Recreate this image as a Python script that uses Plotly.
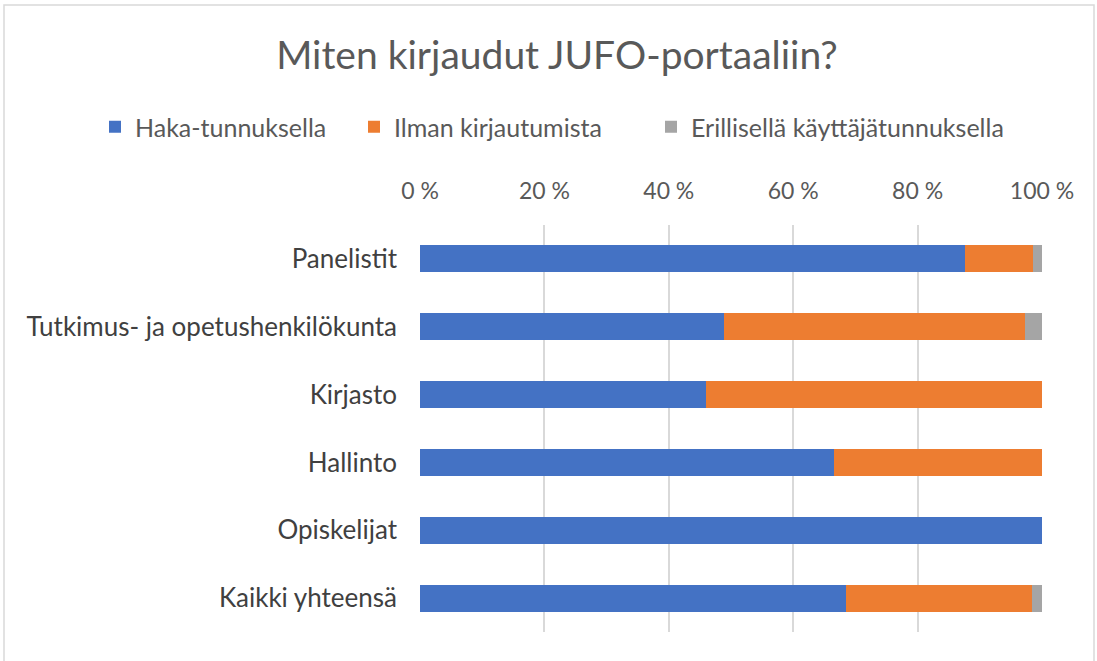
import plotly.graph_objects as go

categories = ["Panelistit", "Tutkimus- ja opetushenkilökunta", "Kirjasto", "Hallinto", "Opiskelijat", "Kaikki yhteensä"]
haka = [87.7, 48.9, 45.9, 66.6, 100.0, 68.5]
ilman = [10.8, 48.4, 54.1, 33.4, 0.0, 29.9]
erillinen = [1.5, 2.7, 0.0, 0.0, 0.0, 1.6]
series_names = ["Haka-tunnuksella", "Ilman kirjautumista", "Erillisellä käyttäjätunnuksella"]
colors = ["#4472C4", "#ED7D31", "#A5A5A5"]
tick_vals = [0, 20, 40, 60, 80, 100]
tick_text = ["0 %", "20 %", "40 %", "60 %", "80 %", "100 %"]

W, H = 1097, 661
L, R, T, B = 420, 55, 225, 29
PW, PH = W - L - R, H - T - B

legend_ids = ["legend", "legend2", "legend3"]
legend_text_x = [135, 394, 691]

fig = go.Figure()
for name, vals, col, lg in zip(series_names, [haka, ilman, erillinen], colors, legend_ids):
    fig.add_trace(go.Bar(
        y=categories, x=vals, name=name, orientation="h",
        marker=dict(color=col, line=dict(width=0)), width=0.4,
        hoverinfo="x+name", legend=lg, showlegend=True,
    ))

legend_common = dict(orientation="h", xref="container", yref="container",
                     y=1 - 127 / H, xanchor="left", yanchor="middle",
                     font=dict(size=25, color="#595959", family="Lato"),
                     bgcolor="rgba(0,0,0,0)", visible=True)
legends = {}
for lg, tx in zip(legend_ids, legend_text_x):
    legends[lg] = dict(legend_common, x=(tx - 40) / W)

fig.update_layout(
    barmode="stack",
    showlegend=True,
    width=W, height=H,
    margin=dict(l=L, r=R, t=T, b=B),
    paper_bgcolor="white", plot_bgcolor="white",
    font=dict(family="Lato", color="#595959", size=23),
    title=dict(text="Miten kirjaudut JUFO-portaaliin?", x=557 / W, xref="container",
               y=1 - 55 / H, yref="container", xanchor="center", yanchor="middle",
               font=dict(size=39, color="#595959", family="Lato")),
    **legends,
    xaxis=dict(side="top", range=[0, 100], tickvals=tick_vals, ticktext=tick_text,
               showgrid=True, gridcolor="#D9D9D9", gridwidth=1.5, zeroline=False,
               showline=False, ticks="", ticklabelstandoff=20,
               tickfont=dict(size=23, color="#595959")),
    yaxis=dict(autorange="reversed", showgrid=False, zeroline=False, showline=False,
               ticks="", ticklabelstandoff=22, tickfont=dict(size=26, color="#404040")),
    shapes=[dict(type="rect", xref="paper", yref="paper",
                 x0=(4 - L) / PW, x1=(1094 - L) / PW,
                 y0=(H - B - 670) / PH, y1=(H - B - 5) / PH,
                 line=dict(color="#D9D9D9", width=1.5), layer="below")],
)

fig.write_html("out.html", config={"displayModeBar": False},
               post_script="document.body.style.margin='0';")
